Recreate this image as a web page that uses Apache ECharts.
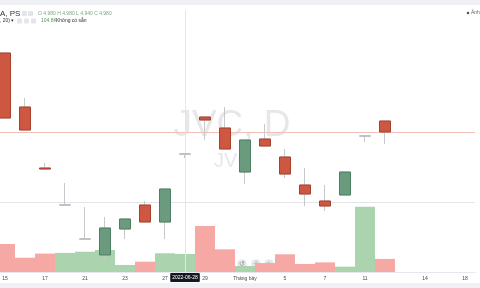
<!DOCTYPE html>
<html>
<head>
<meta charset="utf-8">
<script src="https://cdn.jsdelivr.net/npm/echarts@6/dist/echarts.min.js"></script>
<style>html,body{margin:0;padding:0;background:#fff}#c{width:480px;height:288px}</style>
</head>
<body>
<div id="c"></div>
<script>
const dates = ['2022-06-15','2022-06-16','2022-06-17','2022-06-20','2022-06-21','2022-06-22','2022-06-23','2022-06-24','2022-06-27','2022-06-28','2022-06-29','2022-06-30','2022-07-01','2022-07-04','2022-07-05','2022-07-06','2022-07-07','2022-07-08','2022-07-11','2022-07-12','2022-07-13','2022-07-14','2022-07-15','2022-07-18'];
const tickLabels = ['15','','17','','21','','23','','27','','29','','Tháng bảy','','5','','7','','11','','','14','','18'];
const opens  = [5.99,5.45,4.84,4.47,4.13,3.97,4.23,4.47,4.30,4.98,5.35,5.24,4.80,5.13,4.95,4.67,4.51,4.57,5.16,5.31];
const closes = [5.34,5.22,4.83,4.47,4.13,4.24,4.33,4.30,4.63,4.98,5.32,5.03,5.12,5.06,4.78,4.58,4.46,4.80,5.16,5.20];
const highs  = [5.99,5.54,4.89,4.69,4.45,4.35,4.33,4.51,4.63,4.98,5.35,5.45,5.12,5.28,5.03,4.84,4.67,4.80,5.16,5.31];
const lows   = [5.34,5.22,4.83,4.47,4.13,3.92,4.13,4.30,4.13,4.94,5.12,5.03,4.68,5.06,4.74,4.46,4.41,4.57,5.10,5.08];
const volumesK = [163,83,107,111,118,128,41,60,109,104.8,268,132,35,52,103,47,56,31,380,76];
const crossIndex = 9;
const crossLabel = '2022-06-28';
// price scale: ticks every 0.70 from 3.80 -> 4.50 (crosshair level), 5.20 (last close)
const priceMin = 3.80, priceMax = 6.42, priceStep = 0.70;
const splitColors = ['rgba(0,0,0,0)','#e4e5e8','#f2c0b9','rgba(0,0,0,0)','rgba(0,0,0,0)'];

const UP = '#6a9b7e', UP_B = '#4f7f63', DOWN = '#cd5741', DOWN_B = '#a8412e';
const VUP = '#abd4ae', VDOWN = '#f5a8a4';
const FONT = 'Liberation Sans, Arial, sans-serif';

const wickData = opens.map((o,i)=>[o, closes[i], lows[i], highs[i]]);
const bodyData = opens.map((o,i)=>[o, closes[i], Math.min(o,closes[i]), Math.max(o,closes[i])]);
const volData = volumesK.map((v,i)=>({value:v, itemStyle:{color: closes[i] >= opens[i] ? VUP : VDOWN}}));

const navIcons = ['‹','−','↺','+','›'];
const navX = [214,228,242,256,269];
const navGraphics = [];
navX.forEach((x,i)=>{
  navGraphics.push({type:'circle', shape:{cx:x,cy:264,r:5}, style:{fill:'rgba(222,224,230,0.85)', stroke:'rgba(255,255,255,0.9)', lineWidth:0.8}});
  navGraphics.push({type:'text', x:x, y:264, style:{text:navIcons[i], fill:'#8a8d96', font:'7px '+FONT, align:'center', verticalAlign:'middle'}});
});

const chart = echarts.init(document.getElementById('c'), null, {renderer:'canvas'});
chart.setOption({
  animation:false,
  backgroundColor:'#ffffff',
  grid:{left:-5, right:5, top:10, bottom:16, containLabel:false, outerBoundsMode:'none'},
  xAxis:{type:'category', data:dates, boundaryGap:true,
    axisLine:{show:true, lineStyle:{color:'#e6e8ec'}}, axisTick:{show:false},
    axisLabel:{interval:0, margin:4, fontSize:5, color:'#4a4a4a', fontFamily:FONT,
      formatter:(v,i)=>tickLabels[i]},
    splitLine:{show:false}},
  yAxis:[
    {type:'value', min:priceMin, max:priceMax, interval:priceStep, show:true,
      axisLine:{show:false}, axisTick:{show:false}, axisLabel:{show:false},
      splitLine:{show:true, lineStyle:{color:splitColors, width:1, type:'solid'}}},
    {type:'value', min:0, max:1525, show:false, splitLine:{show:false}}
  ],
  graphic:[
    {type:'rect', shape:{x:0,y:0,width:480,height:5}, style:{fill:'#eef0f3'}, z:20},
    {type:'rect', shape:{x:0,y:283,width:480,height:5}, style:{fill:'#eef0f3'}, z:20},
    {type:'text', x:232, y:126, z:0, style:{text:'JVC, D', fill:'rgba(120,123,134,0.18)', font:'37px '+FONT, align:'center', verticalAlign:'middle'}},
    {type:'text', x:233, y:161, z:0, style:{text:'JVC', fill:'rgba(120,123,134,0.18)', font:'20px '+FONT, align:'center', verticalAlign:'middle'}},
    {type:'text', x:0, y:14, z:20, style:{text:'A, PS ▾', fill:'#333', font:'8px '+FONT, verticalAlign:'middle'}},
    {type:'rect', shape:{x:22,y:11,width:5,height:5,r:1}, style:{fill:'#e3e5ea'}, z:20},
    {type:'rect', shape:{x:28,y:11,width:5,height:5,r:1}, style:{fill:'#e3e5ea'}, z:20},
    {type:'text', x:38, y:14, z:20, style:{text:'O 4.980 H 4.980 L 4.940 C 4.980', fill:'#7aa886', font:'5px '+FONT, verticalAlign:'middle'}},
    {type:'text', x:0, y:21, z:20, style:{text:', 20) ▾', fill:'#333', font:'5px '+FONT, verticalAlign:'middle'}},
    {type:'rect', shape:{x:17,y:18.5,width:5,height:5,r:1}, style:{fill:'#e3e5ea'}, z:20},
    {type:'rect', shape:{x:24,y:18.5,width:5,height:5,r:1}, style:{fill:'#e3e5ea'}, z:20},
    {type:'rect', shape:{x:31,y:18.5,width:5,height:5,r:1}, style:{fill:'#e3e5ea'}, z:20},
    {type:'text', x:41, y:21, z:20, style:{text:'104.8K', fill:'#4f9a5f', font:'5px '+FONT, verticalAlign:'middle'}},
    {type:'text', x:56, y:21, z:20, style:{text:'Không có sẵn', fill:'#333', font:'5px '+FONT, verticalAlign:'middle'}},
    {type:'circle', shape:{cx:468,cy:13,r:1.3}, style:{fill:'#555'}, z:20},
    {type:'text', x:471, y:13, z:20, style:{text:'Ảnh', fill:'#666', font:'5px '+FONT, verticalAlign:'middle'}},
    {type:'group', z:20, children:navGraphics}
  ],
  series:[
    {type:'bar', xAxisIndex:0, yAxisIndex:1, data:volData, barCategoryGap:'0%', barGap:'0%', z:1, silent:true},
    {type:'line', yAxisIndex:0, data:[], z:2, silent:true, showSymbol:false,
      markLine:{silent:true, symbol:'none', z:2,
        data:[
          {xAxis:crossIndex, lineStyle:{color:'#e4e5e8', width:1, type:'solid', opacity:1},
            label:{show:true, position:'start', distance:1, formatter:crossLabel, color:'#fff', backgroundColor:'#131722',
              fontSize:5, fontFamily:FONT, padding:[2,2,2,2], borderRadius:1}}
        ]}},
    {type:'candlestick', yAxisIndex:0, data:wickData, barWidth:12, z:3, silent:true,
      itemStyle:{color:'transparent', color0:'transparent', borderColor:'#c6c8cc', borderColor0:'#c6c8cc', borderColorDoji:'#c6c8cc', borderWidth:1}},
    {type:'candlestick', yAxisIndex:0, data:bodyData, barWidth:12, z:4, silent:true,
      itemStyle:{color:UP, color0:DOWN, borderColor:UP_B, borderColor0:DOWN_B, borderColorDoji:'#b9bbbf', borderWidth:1}}
  ]
});
</script>
</body>
</html>
